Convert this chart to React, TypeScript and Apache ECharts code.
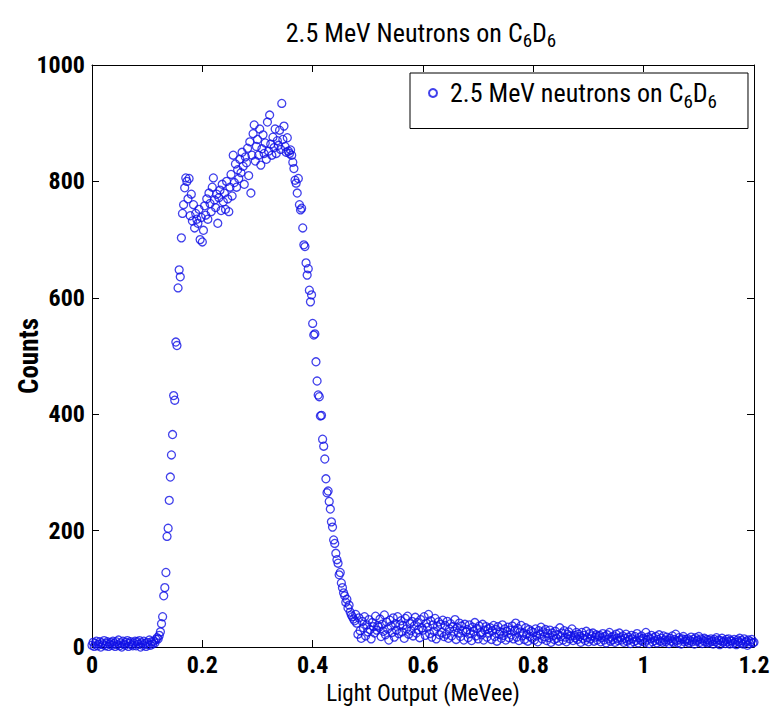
import React, { useEffect, useRef } from "react";
import * as echarts from "echarts";

// Histogram of light output (bin width 0.002 MeVee, bins from 0 to 1.2)
const binWidth = 0.002;
const counts: number[] = [
  3, 8, 1, 6, 10, 2, 5, 9, 0, 7, 4, 11, 2, 6, 9, 1, 5, 8, 3, 10,
  6, 1, 9, 4, 12, 2, 7, 0, 10, 5, 3, 8, 11, 1, 6, 9, 4, 2, 7, 10,
  2, 9, 5, 11, 0, 7, 3, 10, 6, 1, 8, 4, 12, 3, 9, 5, 10, 7, 13, 16,
  14, 20, 26, 40, 52, 88, 102, 128, 190, 204, 252, 292, 330, 365, 432, 424, 524, 518, 617, 648,
  636, 703, 745, 760, 789, 806, 800, 770, 805, 741, 778, 732, 760, 720, 745, 735, 728, 752, 700, 738,
  696, 716, 758, 742, 770, 735, 780, 762, 748, 790, 806, 768, 755, 778, 728, 772, 785, 750, 795, 765,
  780, 752, 800, 770, 748, 790, 812, 775, 845, 798, 830, 790, 820, 805, 838, 815, 850, 826, 795, 842,
  832, 857, 810, 868, 780, 845, 882, 897, 835, 860, 872, 845, 890, 828, 856, 880, 848, 866, 838, 902,
  852, 914, 864, 845, 876, 858, 890, 848, 870, 862, 888, 855, 934, 872, 895, 860, 850, 875, 852, 848,
  854, 845, 833, 822, 802, 797, 780, 805, 760, 751, 754, 720, 691, 688, 660, 639, 650, 613, 593, 605,
  556, 536, 538, 490, 457, 433, 430, 397, 398, 357, 345, 323, 289, 265, 268, 250, 237, 215, 206, 184,
  178, 161, 150, 144, 124, 128, 110, 102, 93, 88, 77, 82, 67, 72, 60, 55, 52, 48, 45, 56,
  41, 22, 50, 28, 15, 44, 33, 52, 19, 38, 26, 47, 30, 14, 42, 35, 24, 53, 29, 37,
  34, 48, 18, 39, 27, 55, 21, 43, 31, 12, 46, 36, 25, 50, 17, 40, 29, 52, 23, 38,
  45, 26, 37, 15, 49, 31, 53, 22, 40, 28, 44, 19, 36, 51, 24, 42, 30, 16, 47, 33,
  29, 52, 20, 41, 34, 56, 23, 45, 17, 38, 27, 49, 14, 35, 43, 21, 39, 25, 46, 18,
  37, 22, 44, 15, 31, 40, 19, 35, 27, 47, 13, 33, 24, 41, 18, 36, 28, 12, 39, 26,
  30, 16, 38, 23, 11, 34, 27, 42, 19, 32, 14, 36, 25, 21, 39, 12, 29, 35, 17, 31,
  24, 33, 13, 28, 37, 18, 30, 10, 35, 22, 26, 15, 38, 20, 31, 12, 27, 34, 16, 29,
  21, 36, 14, 28, 41, 17, 32, 11, 26, 37, 19, 24, 13, 33, 22, 10, 30, 18, 27, 15,
  25, 12, 31, 19, 9, 28, 22, 34, 14, 26, 18, 30, 11, 23, 16, 29, 8, 24, 20, 13,
  27, 15, 21, 10, 33, 18, 24, 12, 28, 17, 9, 22, 26, 14, 19, 31, 11, 20, 16, 25,
  13, 22, 18, 8, 25, 15, 20, 11, 27, 16, 9, 23, 14, 19, 24, 10, 17, 21, 12, 18,
  20, 9, 16, 23, 12, 18, 7, 21, 14, 25, 10, 17, 13, 19, 8, 22, 15, 11, 24, 16,
  12, 19, 8, 15, 22, 10, 17, 13, 6, 20, 14, 9, 18, 11, 23, 7, 16, 12, 19, 10,
  15, 8, 25, 12, 17, 6, 14, 20, 9, 16, 11, 18, 7, 13, 21, 10, 15, 8, 19, 12,
  9, 17, 12, 6, 15, 10, 19, 8, 13, 22, 11, 7, 16, 12, 5, 14, 18, 9, 13, 10,
  14, 7, 11, 17, 9, 13, 5, 16, 10, 12, 18, 8, 14, 6, 11, 15, 9, 13, 7, 12,
  8, 14, 10, 5, 13, 9, 16, 7, 12, 4, 11, 15, 8, 10, 6, 13, 9, 14, 5, 11,
  10, 6, 13, 8, 4, 12, 9, 15, 7, 11, 5, 14, 8, 10, 3, 12, 6, 9, 13, 7,
  8,
];
const lightOutput: number[] = counts.map((_, i) => +(i * binWidth).toFixed(3));

const xTicks = { min: 0, max: 1.2, interval: 0.2 };
const yTicks = { min: 0, max: 1000, interval: 200 };

const titleText = "2.5 MeV Neutrons on C";
const legendText = "2.5 MeV neutrons on C";
const subscript = "6";
const secondAtom = "D";
const xName = "Light Output (MeVee)";
const yName = "Counts";
const seriesName = "2.5 MeV neutrons on C6D6";

const FONT = "'Roboto Condensed', 'Open Sans Condensed', 'Liberation Sans', sans-serif";
const BLUE = "#1010e6";

export default function App() {
  const ref = useRef<HTMLDivElement>(null);

  useEffect(() => {
    if (!ref.current) return;
    const chart = echarts.init(ref.current, undefined, { renderer: "svg" });
    const rich = {
      a: { fontFamily: FONT, fontSize: 26, fontWeight: "normal", color: "#000" },
      s: { fontFamily: FONT, fontSize: 19, fontWeight: "normal", color: "#000", padding: [16, 0, 0, 0] },
    };
    const axisCommon = {
      type: "value" as const,
      splitLine: { show: false },
      axisLine: { show: true, onZero: false, lineStyle: { color: "#000", width: 1 } },
      axisTick: { show: true, inside: true, length: 7, lineStyle: { color: "#000", width: 1 } },
    };
    const labelText = (t: string) => `{a|${t}}{s|${subscript}}{a|${secondAtom}}{s|${subscript}}`;
    chart.setOption({
      animation: false,
      backgroundColor: "#fff",
      title: {
        text: labelText(titleText),
        left: 421,
        top: 15,
        textAlign: "center",
        padding: 0,
        textStyle: { fontWeight: "normal", rich },
      },
      legend: {
        show: true,
        left: 410,
        top: 73,
        orient: "vertical",
        backgroundColor: "#fff",
        borderColor: "#000",
        borderWidth: 1,
        padding: [7, 31, 18, 18],
        itemWidth: 8,
        itemHeight: 8,
        itemGap: 0,
        formatter: () => labelText(legendText),
        textStyle: { rich, padding: [0, 0, 0, 8] },
      },
      grid: { left: 92, right: 16, top: 65, bottom: 78, containLabel: false, outerBoundsMode: "none" },
      xAxis: [
        {
          ...axisCommon,
          ...xTicks,
          position: "bottom",
          axisLabel: { show: true, fontFamily: FONT, fontSize: 24, fontWeight: "bold", color: "#000", margin: 6 },
          name: xName,
          nameLocation: "middle",
          nameGap: 35,
          nameMoveOverlap: false,
          nameTextStyle: { fontFamily: FONT, fontSize: 23, color: "#000" },
        },
        { ...axisCommon, ...xTicks, position: "top", axisLabel: { show: false } },
      ],
      yAxis: [
        {
          ...axisCommon,
          ...yTicks,
          position: "left",
          axisLabel: {
            show: true,
            fontFamily: FONT,
            fontSize: 24,
            fontWeight: "bold",
            color: "#000",
            margin: 7,
            formatter: (v: number) => String(v),
          },
          name: yName,
          nameLocation: "middle",
          nameGap: 50,
          nameMoveOverlap: false,
          nameTextStyle: { fontFamily: FONT, fontSize: 27, fontWeight: "bold", color: "#000" },
        },
        { ...axisCommon, ...yTicks, position: "right", axisLabel: { show: false } },
      ],
      series: [
        {
          type: "scatter",
          name: seriesName,
          xAxisIndex: 0,
          yAxisIndex: 0,
          symbol: "circle",
          symbolSize: 8,
          data: lightOutput.map((x, i) => [x, counts[i]]),
          itemStyle: { color: "rgba(255,255,255,0)", borderColor: BLUE, borderWidth: 1.3 },
          emphasis: { disabled: true },
          clip: false,
        },
      ],
    });
    return () => chart.dispose();
  }, []);

  return (
    <div
      ref={ref}
      style={{ position: "fixed", left: 0, top: 0, width: 770, height: 725 }}
    />
  );
}
